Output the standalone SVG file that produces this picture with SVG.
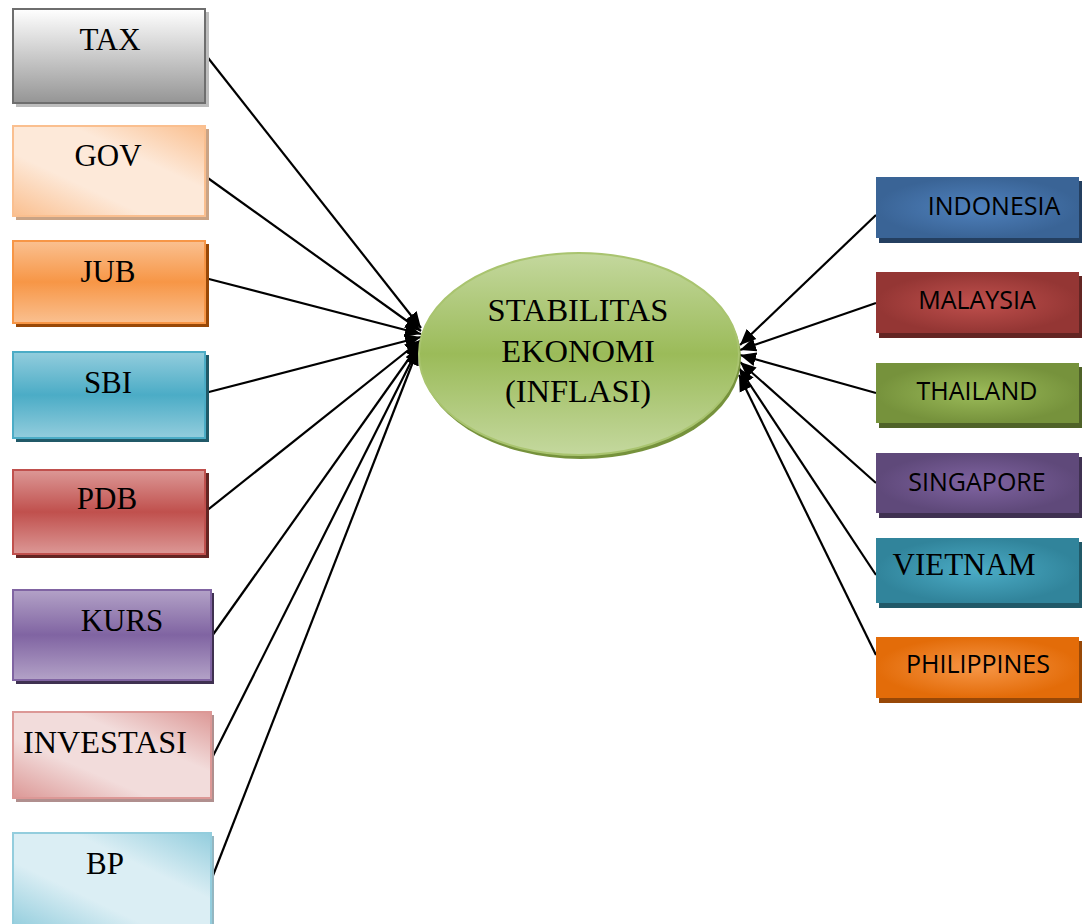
<svg xmlns="http://www.w3.org/2000/svg" width="1082" height="924" viewBox="0 0 1082 924">
<style>
.t{font-family:"Liberation Serif","Times New Roman",serif;font-size:31px;fill:#000;text-anchor:middle}
.e{font-size:32.5px}
.s{font-family:"Open Sans","Noto Sans",sans-serif;font-size:25px;fill:#000;text-anchor:middle}
.c{stroke:#000;stroke-width:2.2;fill:none;marker-end:url(#ah)}
</style>
<defs>
<marker id="ah" markerUnits="userSpaceOnUse" markerWidth="18" markerHeight="16" refX="16" refY="8" orient="auto">
<path d="M0,1 L16,8 L0,15 Z" fill="#000"/>
</marker>
<linearGradient id="gTax" x1="0" y1="0" x2="0" y2="1"><stop offset="0" stop-color="#ffffff"/><stop offset="1" stop-color="#959595"/></linearGradient>
<linearGradient id="gGov" x1="0" y1="1" x2="1" y2="0"><stop offset="0" stop-color="#fabf8f"/><stop offset="0.35" stop-color="#fde9d9"/><stop offset="0.65" stop-color="#fde9d9"/><stop offset="1" stop-color="#fabf8f"/></linearGradient>
<linearGradient id="gJub" x1="0" y1="0" x2="0" y2="1"><stop offset="0" stop-color="#fac090"/><stop offset="0.5" stop-color="#f79646"/><stop offset="1" stop-color="#fac090"/></linearGradient>
<linearGradient id="gSbi" x1="0" y1="0" x2="0" y2="1"><stop offset="0" stop-color="#93cddd"/><stop offset="0.5" stop-color="#4bacc6"/><stop offset="1" stop-color="#93cddd"/></linearGradient>
<linearGradient id="gPdb" x1="0" y1="0" x2="0" y2="1"><stop offset="0" stop-color="#dc9896"/><stop offset="0.5" stop-color="#c0504d"/><stop offset="1" stop-color="#dc9896"/></linearGradient>
<linearGradient id="gKurs" x1="0" y1="0" x2="0" y2="1"><stop offset="0" stop-color="#b3a2c7"/><stop offset="0.5" stop-color="#8064a2"/><stop offset="1" stop-color="#b3a2c7"/></linearGradient>
<linearGradient id="gInv" x1="0" y1="1" x2="1" y2="0"><stop offset="0" stop-color="#dc9896"/><stop offset="0.35" stop-color="#f2dcdb"/><stop offset="0.65" stop-color="#f2dcdb"/><stop offset="1" stop-color="#dc9896"/></linearGradient>
<linearGradient id="gBp" x1="0" y1="1" x2="1" y2="0"><stop offset="0" stop-color="#93cddd"/><stop offset="0.35" stop-color="#dbeef4"/><stop offset="0.65" stop-color="#dbeef4"/><stop offset="1" stop-color="#93cddd"/></linearGradient>
<linearGradient id="gEl" x1="0" y1="0" x2="0" y2="1"><stop offset="0" stop-color="#c4d89e"/><stop offset="0.5" stop-color="#9bbb59"/><stop offset="1" stop-color="#c4d89e"/></linearGradient>
<radialGradient id="rInd"><stop offset="0" stop-color="#4f81bd"/><stop offset="1" stop-color="#3a6496"/></radialGradient>
<radialGradient id="rMal"><stop offset="0" stop-color="#c0504d"/><stop offset="1" stop-color="#943634"/></radialGradient>
<radialGradient id="rTha"><stop offset="0" stop-color="#9bbb59"/><stop offset="1" stop-color="#76923c"/></radialGradient>
<radialGradient id="rSin"><stop offset="0" stop-color="#8064a2"/><stop offset="1" stop-color="#5f497a"/></radialGradient>
<radialGradient id="rVie"><stop offset="0" stop-color="#4bacc6"/><stop offset="1" stop-color="#31849b"/></radialGradient>
<radialGradient id="rPhi"><stop offset="0" stop-color="#f79646"/><stop offset="1" stop-color="#e36c09"/></radialGradient>
</defs>
<rect width="1082" height="924" fill="#fff"/>

<g id="connectors">
<line class="c" x1="205" y1="54" x2="421" y2="328"/>
<line class="c" x1="205" y1="176" x2="421" y2="331"/>
<line class="c" x1="205" y1="278" x2="421" y2="334"/>
<line class="c" x1="205" y1="393" x2="421" y2="337"/>
<line class="c" x1="205" y1="512" x2="421" y2="340"/>
<line class="c" x1="212" y1="636" x2="420" y2="343"/>
<line class="c" x1="212" y1="758" x2="419" y2="346"/>
<line class="c" x1="212" y1="878" x2="418" y2="349"/>
<line class="c" x1="876" y1="215" x2="740" y2="345"/>
<line class="c" x1="876" y1="303" x2="740" y2="350"/>
<line class="c" x1="876" y1="393" x2="740" y2="355"/>
<line class="c" x1="876" y1="483" x2="740" y2="362"/>
<line class="c" x1="876" y1="575" x2="739" y2="368"/>
<line class="c" x1="876" y1="655" x2="739" y2="375"/>
</g>

<g id="tax"><rect x="16" y="12" width="193" height="95" fill="#bdbdbd"/><rect x="13" y="9" width="192" height="94" fill="url(#gTax)" stroke="#6e6e6e" stroke-width="2"/><text class="t" x="110" y="50">TAX</text></g>
<g id="gov"><rect x="16" y="129" width="193" height="91" fill="#c9a385"/><rect x="13" y="126" width="192" height="90" fill="url(#gGov)" stroke="#fabf8f" stroke-width="2"/><text class="t" x="108" y="166">GOV</text></g>
<g id="jub"><rect x="16" y="244" width="193" height="83" fill="#984807"/><rect x="13" y="241" width="192" height="82" fill="url(#gJub)" stroke="#f79646" stroke-width="2"/><text class="t" x="108" y="282">JUB</text></g>
<g id="sbi"><rect x="16" y="355" width="193" height="87" fill="#215968"/><rect x="13" y="352" width="192" height="86" fill="url(#gSbi)" stroke="#4bacc6" stroke-width="2"/><text class="t" x="108" y="393">SBI</text></g>
<g id="pdb"><rect x="16" y="473" width="193" height="85" fill="#632523"/><rect x="13" y="470" width="192" height="84" fill="url(#gPdb)" stroke="#c0504d" stroke-width="2"/><text class="t" x="107" y="509">PDB</text></g>
<g id="kurs"><rect x="16" y="593" width="198" height="91" fill="#3f3151"/><rect x="13" y="590" width="198" height="90" fill="url(#gKurs)" stroke="#8064a2" stroke-width="2"/><text class="t" x="122" y="631">KURS</text></g>
<g id="investasi"><rect x="16" y="715" width="198" height="87" fill="#b08f8e"/><rect x="13" y="712" width="198" height="86" fill="url(#gInv)" stroke="#dc9896" stroke-width="2"/><text class="t" x="105" y="753" textLength="164" lengthAdjust="spacingAndGlyphs">INVESTASI</text></g>
<g id="bp"><rect x="16" y="836" width="198" height="92" fill="#93b7c2"/><rect x="13" y="833" width="198" height="95" fill="url(#gBp)" stroke="#93cddd" stroke-width="2"/><text class="t" x="105" y="874">BP</text></g>

<g id="stabilitas">
<ellipse cx="581" cy="358" rx="160" ry="101" fill="#76923c"/>
<ellipse cx="579" cy="354" rx="160" ry="101" fill="url(#gEl)" stroke="#a9c46f" stroke-width="2"/>
<text class="t e" x="578" y="321">STABILITAS</text>
<text class="t e" x="578" y="362">EKONOMI</text>
<text class="t e" x="578" y="402">(INFLASI)</text>
</g>

<g id="indonesia"><rect x="879" y="181" width="203" height="62" fill="#243f60"/><rect x="876" y="177" width="203" height="61" fill="url(#rInd)"/><text class="s" x="994" y="215">INDONESIA</text></g>
<g id="malaysia"><rect x="879" y="276" width="203" height="62" fill="#632523"/><rect x="876" y="272" width="203" height="61" fill="url(#rMal)"/><text class="s" x="977" y="309">MALAYSIA</text></g>
<g id="thailand"><rect x="879" y="367" width="203" height="61" fill="#4f6228"/><rect x="876" y="363" width="203" height="60" fill="url(#rTha)"/><text class="s" x="977" y="400">THAILAND</text></g>
<g id="singapore"><rect x="879" y="457" width="203" height="61" fill="#3f3151"/><rect x="876" y="453" width="203" height="60" fill="url(#rSin)"/><text class="s" x="977" y="491">SINGAPORE</text></g>
<g id="vietnam"><rect x="879" y="542" width="203" height="66" fill="#215968"/><rect x="876" y="538" width="203" height="65" fill="url(#rVie)"/><text class="t" x="964" y="575">VIETNAM</text></g>
<g id="philippines"><rect x="879" y="641" width="203" height="62" fill="#984807"/><rect x="876" y="637" width="203" height="61" fill="url(#rPhi)"/><text class="s" x="978" y="673">PHILIPPINES</text></g>
</svg>
